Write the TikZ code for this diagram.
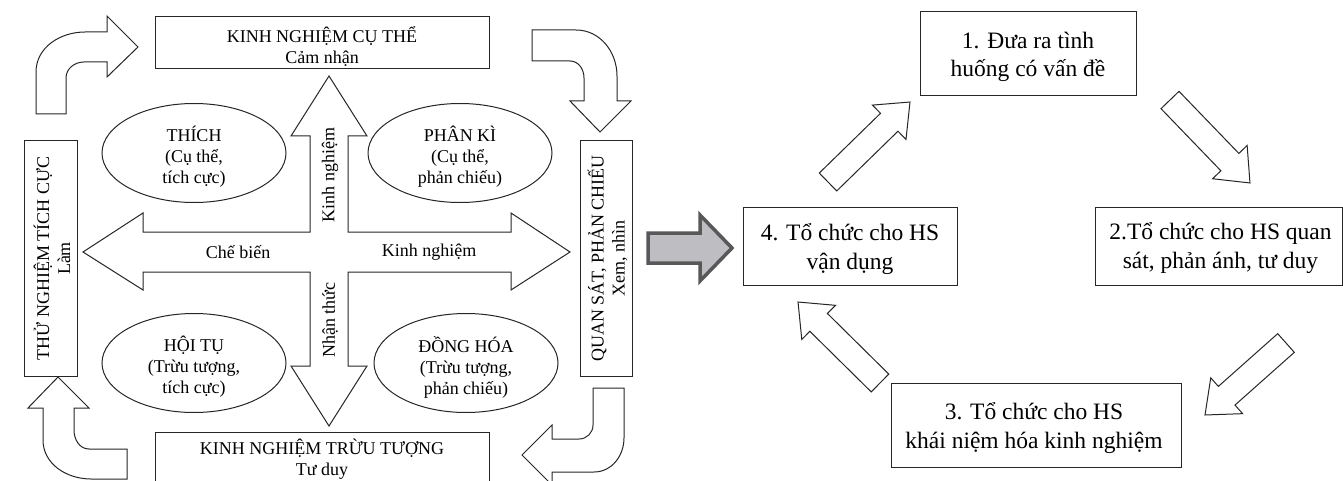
\documentclass[tikz,border=0pt]{standalone}
\usepackage{fontspec}
\setmainfont{Liberation Serif}
\usetikzlibrary{shapes.geometric,calc}
\definecolor{edgec}{HTML}{262626}
\definecolor{darkg}{HTML}{585858}
\definecolor{lightg}{HTML}{BEBEC2}
\newcommand\leftsz{\fontsize{18}{21}\selectfont}
\newcommand\rightsz{\fontsize{23.5}{28.5}\selectfont}
\newcommand\blockarrow[6]{% #1 style, #2 from, #3 to, #4 half shaft, #5 half head, #6 head length
  \path let \p1=($(#3)-(#2)$), \n1={atan2(\y1,\x1)}, \n2={veclen(\x1,\y1)} in
    \pgfextra{\xdef\baang{\n1}\xdef\balen{\n2}};
  \begin{scope}[shift={(#2)}, rotate=\baang]
    \draw[#1] (0,-#4) -- ({\balen-#6},-#4) -- ({\balen-#6},-#5) -- (\balen,0)
      -- ({\balen-#6},#5) -- ({\balen-#6},#4) -- (0,#4) -- cycle;
  \end{scope}
}
\begin{document}
\begin{tikzpicture}[x=1pt,y=-1pt,
  line/.style={draw=edgec, line width=1pt, line join=miter},
  lbox/.style={line, inner sep=0pt},
  ltext/.style={inner sep=0pt, align=center, font=\leftsz},
  rbox/.style={line, inner sep=0pt},
  rtext/.style={inner sep=0pt, align=center, font=\rightsz},
  stage/.style={ellipse, line, inner sep=0pt, minimum width=184pt, minimum height=99pt},
  lbl/.style={font=\leftsz, inner sep=1pt},
  outarrow/.style={line, fill=white},
  grayarrow/.style={draw=darkg, fill=lightg, line width=3.5pt, line join=miter}]
\useasboundingbox (0,0) rectangle (1343,481);

% ---------- left: cycle ----------
\node[lbox, minimum width=334pt, minimum height=52pt] (kncb) at (322,43) {};
\node[ltext] (kncbt) at ($(kncb.center)+(0,4)$) {KINH NGHIỆM CỤ THỂ\\Cảm nhận};
\node[lbox, minimum width=334pt, minimum height=62pt, anchor=north] (kntt) at (322,432) {};
\node[ltext] (knttt) at (322,459) {KINH NGHIỆM TRỪU TƯỢNG\\Tư duy};
\node[lbox, rotate=90, minimum width=235pt, minimum height=53pt] (tntc) at (50.5,258.5) {};
\node[ltext, rotate=90] (tntct) at ($(tntc.center)+(1.5,0)$) {THỬ NGHIỆM TÍCH CỰC\\Làm};
\node[lbox, rotate=90, minimum width=235pt, minimum height=52pt] (qspc) at (606,258.5) {};
\node[ltext, rotate=90] (qspct) at ($(qspc.center)+(1.5,0)$) {QUAN SÁT, PHẢN CHIẾU\\Xem, nhìn};

% central four-way arrow
\draw[outarrow] (329,76) -- (367,136) -- (348,136) -- (348,232) -- (511,232) -- (511,213)
  -- (570,252) -- (511,290) -- (511,272) -- (348,272) -- (348,366) -- (367,366)
  -- (329,426) -- (291,366) -- (310,366) -- (310,272) -- (143,272) -- (143,290)
  -- (83,252) -- (143,213) -- (143,232) -- (310,232) -- (310,136) -- (291,136) -- cycle;

\node[lbl, rotate=90] (lkn) at (330,175) {Kinh nghiệm};
\node[lbl, rotate=90] (lnt) at (330,320) {Nhận thức};
\node[lbl] (lcb) at (238,252) {Chế biến};
\node[lbl] (lkn2) at (429,252) {Kinh nghiệm};

\node[stage] (thich) at (194,153) {};
\node[ltext] (thicht) at ($(thich.center)+(0,4)$) {THÍCH\\(Cụ thể,\\tích cực)};
\node[stage] (phanki) at (460,153) {};
\node[ltext] (phankit) at ($(phanki.center)+(0,4)$) {PHÂN KÌ\\(Cụ thể,\\phản chiếu)};
\node[stage] (hoitu) at (194,363) {};
\node[ltext] (hoitut) at ($(hoitu.center)+(0,4)$) {HỘI TỤ\\(Trừu tượng,\\tích cực)};
\node[stage] (donghoa) at (466,363) {};
\node[ltext] (donghoat) at ($(donghoa.center)+(0,4)$) {ĐỒNG HÓA\\(Trừu tượng,\\phản chiếu)};

% curved arrows
\draw[outarrow] (36,114) -- (36,72) to[out=90,in=180] (85,32) -- (107,32) -- (107,16)
  -- (138,47) -- (107,77) -- (107,62) -- (84,62) to[out=180,in=90] (66,78) -- (66,114) -- cycle;
\draw[outarrow] (532,30) -- (576,30) to[out=0,in=90] (617,76) -- (617,101) -- (631,101)
  -- (600,132) -- (570,101) -- (584,101) -- (584,78) to[out=90,in=0] (570,61) -- (532,61) -- cycle;
\draw[outarrow] (593,388) -- (593,425) to[out=-90,in=0] (579,439) -- (552,439) -- (552,425)
  -- (522,455) -- (552,485) -- (552,472) -- (594,472) to[out=0,in=-90] (624,438) -- (624,388) -- cycle;
\draw[outarrow] (58,377) -- (89,408) -- (74,408) -- (74,430) to[out=-90,in=180] (89,449)
  -- (127,449) -- (127,479) -- (91,479) to[out=180,in=-90] (43,440) -- (43,408) -- (28,408) -- cycle;

% ---------- gray transition arrow ----------
\coordinate (gas) at (648,248);
\coordinate (gae) at (732,248);
\blockarrow{grayarrow}{gas}{gae}{15}{33}{32}

% ---------- right: teaching steps ----------
\node[rbox, minimum width=216pt, minimum height=84pt] (s1) at (1028,54) {};
\node[rtext] (s1t) at ($(s1.center)+(0,3)$) {1. Đưa ra tình\\huống có vấn đề};
\node[rbox, minimum width=247pt, minimum height=78pt] (s2) at (1218.5,246) {};
\node[rtext] (s2t) at ($(s2.center)+(2,2)$) {2.Tổ chức cho HS quan\\sát, phản ánh, tư duy};
\node[rbox, minimum width=290pt, minimum height=84pt] (s3) at (1036,425) {};
\node[rtext] (s3t) at ($(s3.center)+(-2,3)$) {3. Tổ chức cho HS\\khái niệm hóa kinh nghiệm};
\node[rbox, minimum width=214pt, minimum height=78pt] (s4) at (850,246) {};
\node[rtext] (s4t) at ($(s4.center)+(0,3)$) {4. Tổ chức cho HS\\vận dụng};

\coordinate (a41s) at (828,182);  \coordinate (a41e) at (910,102);
\coordinate (a12s) at (1170,100); \coordinate (a12e) at (1250,183);
\coordinate (a23s) at (1286,343); \coordinate (a23e) at (1205,415);
\coordinate (a34s) at (880,383);  \coordinate (a34e) at (798,302);
\blockarrow{outarrow}{a41s}{a41e}{12.5}{24}{29}
\blockarrow{outarrow}{a12s}{a12e}{12.5}{24}{29}
\blockarrow{outarrow}{a23s}{a23e}{12.5}{24}{29}
\blockarrow{outarrow}{a34s}{a34e}{12.5}{24}{29}
\end{tikzpicture}
\end{document}
